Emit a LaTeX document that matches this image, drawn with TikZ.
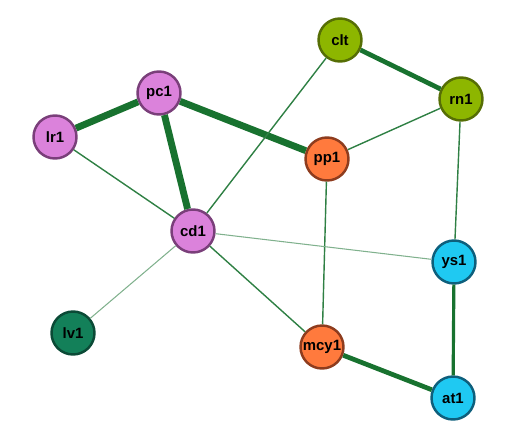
\documentclass[tikz,border=0pt]{standalone}
\usepackage{fontspec}
\setmainfont{Liberation Sans}
\usepackage{xcolor}
\usepackage{tikz}
\definecolor{edgegreen}{HTML}{18722F}
\definecolor{pink}{HTML}{DB82DB}
\definecolor{pinkline}{HTML}{7A3F7A}
\definecolor{olive}{HTML}{8DB600}
\definecolor{oliveline}{HTML}{566E05}
\definecolor{orange}{HTML}{FF7A3D}
\definecolor{orangeline}{HTML}{8E3C1E}
\definecolor{cyan}{HTML}{1FC9F2}
\definecolor{cyanline}{HTML}{0E5F7C}
\definecolor{dkgreen}{HTML}{138059}
\definecolor{dkgreenline}{HTML}{0B4A36}

\begin{document}
\begin{tikzpicture}[x=0.02cm,y=-0.02cm,
  gene/.style={circle,line width=1.4pt,minimum size=0.86cm,inner sep=0pt,
    font=\bfseries\fontsize{8.5}{10}\selectfont},
  pinknode/.style={gene,draw=pinkline,fill=pink},
  olivenode/.style={gene,draw=oliveline,fill=olive},
  orangenode/.style={gene,draw=orangeline,fill=orange},
  cyannode/.style={gene,draw=cyanline,fill=cyan},
  darknode/.style={gene,draw=dkgreenline,fill=dkgreen},
  heavy/.style={draw=edgegreen,line width=3.9pt},
  medium/.style={draw=edgegreen,line width=2.7pt},
  light/.style={draw=edgegreen,line width=1.8pt},
  weak/.style={draw=edgegreen!90,line width=0.8pt},
  faint/.style={draw=edgegreen!55,line width=0.6pt}]
 \useasboundingbox (0,0) rectangle (509,432);
 \node[pinknode] (pc1) at (159,93) {pc1};
 \node[pinknode] (lr1) at (55,137) {lr1};
 \node[pinknode] (cd1) at (193,231) {cd1};
 \node[olivenode] (clt) at (340,40) {clt};
 \node[olivenode] (rn1) at (461,99) {rn1};
 \node[orangenode] (pp1) at (327,159) {pp1};
 \node[orangenode] (mcy1) at (322,347) {mcy1};
 \node[cyannode] (ys1) at (454,262) {ys1};
 \node[cyannode] (at1) at (453,398) {at1};
 \node[darknode] (lv1) at (73,333) {lv1};
 \draw[heavy] (lr1)--(pc1);
 \draw[heavy] (pc1)--(cd1);
 \draw[heavy] (pc1)--(pp1);
 \draw[medium] (clt)--(rn1);
 \draw[medium] (mcy1)--(at1);
 \draw[light] (ys1)--(at1);
 \draw[weak] (lr1)--(cd1);
 \draw[weak] (cd1)--(clt);
 \draw[weak] (rn1)--(pp1);
 \draw[weak] (rn1)--(ys1);
 \draw[weak] (pp1)--(mcy1);
 \draw[weak] (cd1)--(mcy1);
 \draw[faint] (cd1)--(ys1);
 \draw[faint] (cd1)--(lv1);
\end{tikzpicture}
\end{document}
